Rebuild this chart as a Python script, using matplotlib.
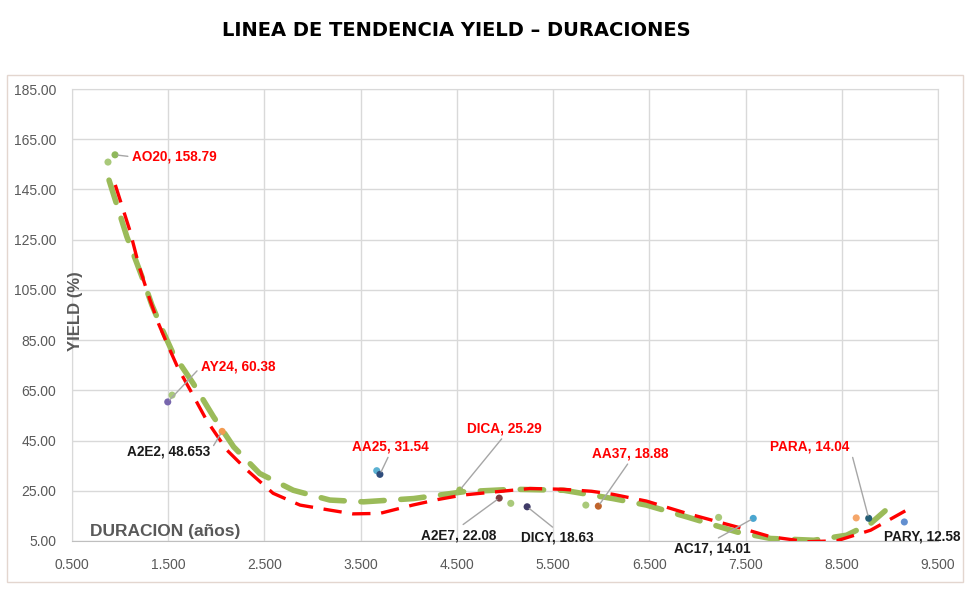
import numpy as np
import matplotlib.pyplot as plt
from matplotlib.patches import Rectangle

# bonos con etiqueta (duracion en años, yield en %)
bonos = ['AO20', 'AY24', 'A2E2', 'AA25', 'DICA', 'A2E7', 'DICY', 'AA37', 'AC17', 'PARA', 'PARY']
duracion = [0.947, 1.495, 2.06, 3.70, 4.53, 4.94, 5.23, 5.97, 7.58, 8.78, 9.15]
yields = [158.79, 60.38, 48.653, 31.54, 25.29, 22.08, 18.63, 18.88, 14.01, 14.04, 12.58]
etiqueta_roja = [True, True, False, True, True, False, False, True, False, True, False]

# puntos sin etiqueta
extra_dur = [0.874, 1.54, 3.667, 5.06, 5.84, 7.22, 8.65]
extra_yield = [155.9, 63.1, 33.0, 20.0, 19.3, 14.4, 14.2]

# lineas de tendencia
roja_x = [0.95, 1.10, 1.20, 1.31, 1.40, 1.48, 1.60, 1.73, 1.90, 2.11, 2.32, 2.59, 2.87, 3.18,
          3.42, 3.70, 4.04, 4.30, 4.56, 4.91, 5.26, 5.60, 5.90, 6.12, 6.47, 6.89, 7.41, 7.76,
          8.14, 8.45, 8.80, 9.16]
roja_y = [146.8, 128.8, 114.0, 101.0, 91.5, 84.3, 74.0, 65.0, 53.0, 41.2, 33.2, 24.0, 19.3, 17.3,
          15.8, 16.0, 19.3, 21.5, 23.3, 24.6, 25.9, 25.6, 24.8, 23.6, 20.9, 16.0, 10.6, 6.7,
          4.7, 5.1, 9.3, 17.0]
verde_x = [0.885, 1.07, 1.24, 1.33, 1.44, 1.55, 1.76, 1.97, 2.18, 2.45, 2.80, 3.18, 3.53, 4.05,
           4.57, 5.09, 5.61, 6.12, 6.47, 6.89, 7.41, 7.76, 8.21, 8.55, 8.80, 8.95]
verde_y = [148.7, 126.2, 108.9, 99.0, 89.0, 79.7, 67.7, 54.5, 42.5, 31.9, 25.2, 21.3, 20.6, 21.9,
           24.6, 25.6, 25.2, 21.9, 19.3, 14.6, 8.6, 6.0, 5.3, 7.3, 12.0, 17.0]

x_ticks = [0.5, 1.5, 2.5, 3.5, 4.5, 5.5, 6.5, 7.5, 8.5, 9.5]
y_ticks = [5, 25, 45, 65, 85, 105, 125, 145, 165, 185]

# colores de cada punto (paleta de excel)
colores = ['#8fb85c', '#7766ad', '#f39a50', '#2f4d7c', '#9bbb59', '#7b3b3f', '#403b68',
           '#c0642c', '#4aa6d0', '#245e75', '#628fd0']
colores_extra = ['#a9c97a', '#a9c97a', '#5bb1d2', '#a9c97a', '#a9c97a', '#a9c97a', '#f5a66a']

# desplazamiento de las etiquetas en pixeles
offsets = [(17, -2), (33, 35), (-12, -20), (10, 28), (45, 62), (-41, -37), (30, -31),
           (32, 53), (-41, -30), (-19, 72), (18, -15)]
alineacion = ['left', 'left', 'right', 'center', 'center', 'center', 'center',
              'center', 'center', 'right', 'center']
# punto de la etiqueta donde arranca la linea guia
anclaje = [(0, 0.5), (0, 0.5), (1, 0.5), (0.5, 0), (0.5, 0), (0.5, 1), (0.5, 1),
           (0.5, 0), (0.5, 1), (1, 0.5), (0.5, 0.5)]

plt.rcParams['font.family'] = ['Liberation Sans', 'DejaVu Sans']

fig = plt.figure(figsize=(9.8, 5.96), dpi=100)
ax = fig.add_axes([72 / 980, 1 - 541 / 596, (938 - 72) / 980, (541 - 89) / 596])

# marco exterior
fig.patches.append(Rectangle((7 / 980, 1 - 582 / 596), 956 / 980, 507 / 596,
                             transform=fig.transFigure, fill=False, edgecolor='#e3d6cf', lw=1))

ax.plot(verde_x, verde_y, color='#9bbb59', lw=4, linestyle=(0, (4.2, 3.0)),
        dash_capstyle='round', zorder=3)
ax.plot(roja_x, roja_y, color='#ff0000', lw=2.4, linestyle=(0, (5.5, 3.2)), zorder=4)

ax.scatter(extra_dur, extra_yield, s=26, color=colores_extra, zorder=5, edgecolors='none')
ax.scatter(duracion, yields, s=26, color=colores, zorder=6, edgecolors='none')

for i, nombre in enumerate(bonos):
    texto = nombre + ', ' + ('%g' % yields[i] if i != 2 else '48.653')
    flecha = None if nombre == 'PARY' else dict(arrowstyle='-', color='#a6a6a6', lw=1,
                                                  shrinkA=1, shrinkB=2, relpos=anclaje[i])
    ax.annotate(texto, (duracion[i], yields[i]), xytext=offsets[i], textcoords='offset pixels',
                ha=alineacion[i], va='center', fontsize=9.8, fontweight='bold',
                color='#ff0000' if etiqueta_roja[i] else '#1a1a1a',
                arrowprops=flecha, zorder=7)

ax.set_xlim(0.5, 9.5)
ax.set_ylim(5, 185)
ax.set_xticks(x_ticks)
ax.set_xticklabels(['%.3f' % v for v in x_ticks])
ax.set_yticks(y_ticks)
ax.set_yticklabels(['%.2f' % v for v in y_ticks])
ax.tick_params(length=0, labelsize=10, colors='#595959')
ax.tick_params(axis='x', pad=12)
ax.tick_params(axis='y', pad=11.5)
ax.grid(True, color='#d9d9d9', lw=1)
ax.set_axisbelow(True)
for lado in ax.spines.values():
    lado.set_color('#d9d9d9')
ax.spines['bottom'].set_color('#bfbfbf')

ax.text(0.0035, 0.509, 'YIELD (%)', transform=ax.transAxes, rotation=90, ha='center',
        va='center', fontsize=12, fontweight='bold', color='#595959')
ax.text(0.021, 0.022, 'DURACION (años)', transform=ax.transAxes, ha='left', va='center',
        fontsize=12.5, fontweight='bold', color='#595959')

fig.text(456 / 980, 1 - 31 / 596, 'LINEA DE TENDENCIA YIELD – DURACIONES', ha='center',
         va='center', fontsize=14, fontweight='bold', family='DejaVu Sans', color='black')

fig.savefig('out.png', dpi=100)
